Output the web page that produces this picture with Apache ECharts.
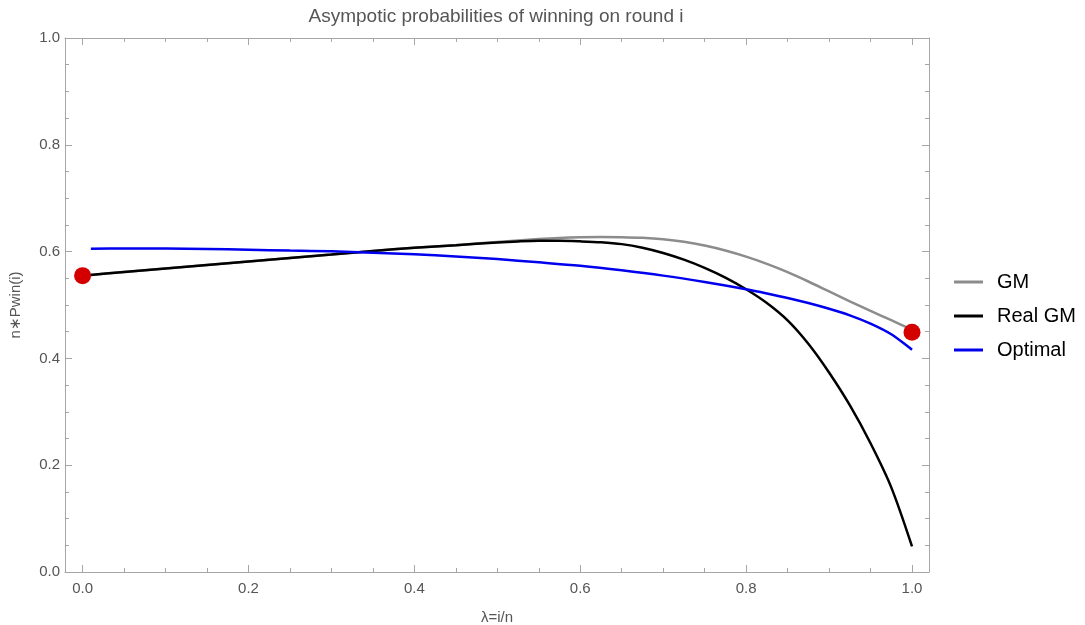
<!DOCTYPE html>
<html>
<head>
<meta charset="utf-8">
<script src="https://cdn.jsdelivr.net/npm/echarts@6/dist/echarts.min.js"></script>
<style>html,body{margin:0;padding:0;background:#fff;}#c{width:1085px;height:625px;}</style>
</head>
<body>
<div id="c"></div>
<script>
// ---- data ----
const gmX   = [0, 0.05, 0.1, 0.15, 0.2, 0.25, 0.3, 0.35, 0.4, 0.45, 0.5, 0.525, 0.55, 0.575, 0.6, 0.625, 0.65, 0.675, 0.7, 0.725, 0.75, 0.775, 0.8, 0.825, 0.85, 0.875, 0.9, 0.925, 0.95, 0.975, 1.0];
const gmY   = [0.555, 0.5618, 0.5685, 0.575, 0.5815, 0.588, 0.5945, 0.6013, 0.607, 0.612, 0.618, 0.621, 0.6235, 0.6255, 0.6268, 0.6273, 0.627, 0.6258, 0.623, 0.6183, 0.6113, 0.602, 0.5905, 0.577, 0.5615, 0.544, 0.5255, 0.507, 0.489, 0.4715, 0.454];
const realX = [0, 0.05, 0.1, 0.15, 0.2, 0.25, 0.3, 0.35, 0.4, 0.45, 0.5, 0.525, 0.55, 0.575, 0.6, 0.625, 0.65, 0.675, 0.7, 0.725, 0.75, 0.775, 0.8, 0.825, 0.85, 0.875, 0.9, 0.925, 0.95, 0.975, 1.0];
const realY = [0.555, 0.5618, 0.5685, 0.575, 0.5815, 0.588, 0.5945, 0.6013, 0.607, 0.612, 0.617, 0.619, 0.6202, 0.6202, 0.6192, 0.6175, 0.614, 0.6073, 0.5975, 0.585, 0.5696, 0.5513, 0.5295, 0.5037, 0.4712, 0.4274, 0.3736, 0.3123, 0.241, 0.1585, 0.048];
const optX  = [0.01, 0.05, 0.1, 0.15, 0.2, 0.25, 0.3, 0.35, 0.4, 0.45, 0.5, 0.55, 0.6, 0.65, 0.7, 0.75, 0.8, 0.825, 0.85, 0.875, 0.9, 0.925, 0.95, 0.975, 1.0];
const optY  = [0.6055, 0.606, 0.6058, 0.605, 0.6035, 0.602, 0.6005, 0.598, 0.595, 0.591, 0.586, 0.580, 0.5735, 0.565, 0.555, 0.543, 0.5295, 0.5217, 0.5132, 0.5037, 0.4929, 0.4807, 0.4652, 0.4452, 0.4162];
const dotX  = [0, 1.0];
const dotY  = [0.555, 0.449];
const xMajor = [0, 0.2, 0.4, 0.6, 0.8, 1.0];
const xMinor = [0.05, 0.1, 0.15, 0.25, 0.3, 0.35, 0.45, 0.5, 0.55, 0.65, 0.7, 0.75, 0.85, 0.9, 0.95];
const seriesNames = ['GM', 'Real GM', 'Optimal'];
const titleText = 'Asympotic probabilities of winning on round i';
const xName = 'λ=i/n';
const yName = 'n∗Pwin(i)';

const zip = (xs, ys) => xs.map((x, i) => [x, ys[i]]);
const FRAME = '#a6a6a6';
const LBL = '#555555';
const FONT = 'Liberation Sans, Arial, sans-serif';
const XMIN = -0.0212, XMAX = 1.0205;

function xAx(pos, vals, len, showLabel, showLine, extra) {
  return Object.assign({
    type: 'value', position: pos, min: XMIN, max: XMAX,
    axisLine: { show: showLine, onZero: false, lineStyle: { color: FRAME, width: 1 } },
    axisTick: { show: true, inside: true, length: len, customValues: vals, lineStyle: { color: FRAME } },
    axisLabel: { show: showLabel, customValues: vals, formatter: v => v.toFixed(1), color: LBL, fontSize: 15, fontFamily: FONT, margin: 9 },
    splitLine: { show: false }
  }, extra || {});
}
function yAx(pos, showLabel, extra) {
  return Object.assign({
    type: 'value', position: pos, min: 0, max: 1, interval: 0.2,
    axisLine: { show: true, onZero: false, lineStyle: { color: FRAME, width: 1 } },
    axisTick: { show: true, inside: true, length: 7, lineStyle: { color: FRAME } },
    minorTick: { show: true, splitNumber: 4, length: 4, lineStyle: { color: FRAME } },
    axisLabel: { show: showLabel, formatter: v => v.toFixed(1), color: LBL, fontSize: 15, fontFamily: FONT, margin: 5 },
    splitLine: { show: false }, minorSplitLine: { show: false }
  }, extra || {});
}

const chart = echarts.init(document.getElementById('c'), null, { renderer: 'canvas' });
const lineCommon = { type: 'line', smooth: 0.3, showSymbol: false };
chart.setOption({
  animation: false,
  backgroundColor: '#fff',
  title: { text: titleText, left: 491, top: 2, textAlign: 'center',
    textStyle: { color: LBL, fontSize: 19, fontWeight: 'normal', fontFamily: FONT } },
  grid: { left: 65, right: 156, top: 38, bottom: 53, containLabel: false, outerBoundsMode: 'none' },
  legend: {
    orient: 'vertical', left: 949, top: 267, itemGap: 14, itemWidth: 29, itemHeight: 3,
    icon: 'rect', data: seriesNames,
    textStyle: { color: '#000', fontSize: 20, fontFamily: FONT, lineHeight: 20, padding: [0, 0, 0, 9] }
  },
  xAxis: [
    xAx('bottom', xMajor, 7, true, true, { name: xName, nameLocation: 'middle', nameGap: 38,
      nameTextStyle: { color: LBL, fontSize: 15, fontFamily: FONT } }),
    xAx('bottom', xMinor, 4, false, false),
    xAx('top', xMajor, 7, false, true),
    xAx('top', xMinor, 4, false, false)
  ],
  yAxis: [
    yAx('left', true, { name: yName, nameLocation: 'middle', nameGap: 42, nameRotate: 90,
      nameTextStyle: { color: LBL, fontSize: 15, fontFamily: FONT } }),
    yAx('right', false)
  ],
  series: [
    Object.assign({ name: seriesNames[0], data: zip(gmX, gmY),
      lineStyle: { color: '#8c8c8c', width: 2.5 }, itemStyle: { color: '#8c8c8c' }, z: 2 }, lineCommon),
    Object.assign({ name: seriesNames[1], data: zip(realX, realY),
      lineStyle: { color: '#000000', width: 2.5 }, itemStyle: { color: '#000000' }, z: 3 }, lineCommon),
    Object.assign({ name: seriesNames[2], data: zip(optX, optY),
      lineStyle: { color: '#0000ee', width: 2.5 }, itemStyle: { color: '#0000ee' }, z: 4 }, lineCommon),
    { type: 'scatter', data: zip(dotX, dotY), symbolSize: 17, itemStyle: { color: '#d40000', opacity: 1 }, z: 5 }
  ]
});
</script>
</body>
</html>
